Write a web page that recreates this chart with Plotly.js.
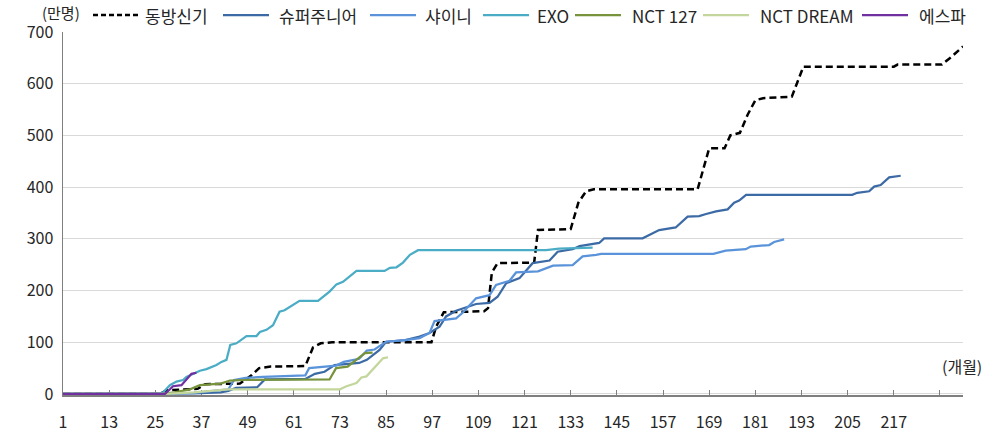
<!DOCTYPE html>
<html>
<head>
<meta charset="utf-8">
<script src="https://cdn.plot.ly/plotly-3.0.1.min.js"></script>
<style>html,body{margin:0;padding:0;background:#fff;}#chart{width:995px;height:435px;}</style>
</head>
<body>
<div id="chart"></div>
<script>
// Series names
const names = ['동방신기', '슈퍼주니어', '샤이니', 'EXO', 'NCT 127', 'NCT DREAM', '에스파'];

// Months since debut (x) and cumulative album sales in 만명 (y)
const tvxqX = [1, 26, 28, 36, 38, 47, 50, 52, 55, 64, 66, 68, 71, 96.8, 98, 100, 110.5, 111.5, 112.5, 114, 123.5, 124.5, 133, 135, 137, 139, 166, 169, 173, 174.5, 177, 179, 181, 183, 190.5, 193.5, 217, 218, 229.5, 232, 235];
const tvxqY = [0, 0, 7, 10, 19, 20, 36, 50, 53, 54, 90, 98, 100, 100, 130, 158, 160, 166, 235, 253, 254, 317, 319, 370, 392, 396, 396, 475, 475, 500, 505, 540, 568, 572, 575, 633, 633, 637, 637, 652, 672];

const sjX = [1, 27, 35, 42, 44, 46, 51.5, 53.5, 64, 66.5, 69, 71.6, 78, 80, 81, 83.3, 85, 90, 93.7, 96.3, 98.9, 100.6, 103.2, 108.4, 111.9, 114, 116.2, 119.7, 123.1, 127.5, 129.6, 133.5, 135.3, 140.4, 141.7, 151.7, 156, 160.3, 163.4, 166.4, 168.2, 170.8, 173.8, 175.5, 176.8, 178.6, 206.2, 207.5, 210.6, 211.9, 213.6, 215.8, 218.8];
const sjY = [0, 0, 1, 3, 6, 12, 13, 28, 29, 39, 43, 56, 60, 66, 72, 85, 101, 104, 111, 118, 130, 150, 161, 174, 176, 188, 214, 224, 253, 258, 275, 280, 286, 292, 301, 301, 317, 322, 343, 344, 348, 353, 357, 370, 374, 385, 385, 389, 392, 401, 404, 419, 422];

const shineeX = [1, 27, 35, 41, 44, 45.5, 48.5, 53, 64, 65, 72, 74, 78, 80, 82, 85, 90, 93.7, 96.3, 97.6, 100.6, 103.2, 104.9, 108.4, 111.9, 113.6, 117.1, 118.8, 124.5, 128.4, 133.5, 136.1, 139.6, 140.9, 170.1, 173.3, 178.5, 179.8, 184.6, 185.9, 188.5];
const shineeY = [0, 0, 2, 7, 9, 27, 31, 33, 36, 50, 55, 62, 68, 84, 86, 101, 104, 108, 118, 141, 144, 146, 157, 185, 191, 211, 219, 235, 237, 248, 249, 266, 269, 271, 271, 277, 280, 285, 288, 294, 299];

const exoX = [1, 26, 27, 28.8, 30.5, 32.2, 33.1, 35.3, 36.6, 38.3, 40.9, 42.2, 43.5, 44.5, 46.1, 48.7, 51.3, 52.2, 53.9, 55.6, 57.3, 58.6, 59.9, 62.5, 67.3, 68.6, 70.3, 72.1, 73.8, 77.3, 84.6, 86, 87.7, 89.4, 91.2, 93.3, 126.6, 130, 138.7];
const exoY = [0, 0, 3, 17, 24, 27, 33, 41, 45, 48, 56, 62, 66, 95, 98, 112, 112, 120, 124, 133, 159, 162, 168, 180, 180, 188, 198, 212, 217, 238, 238, 244, 245, 254, 269, 278, 278, 281, 283];

const nct127X = [1, 27, 30, 34, 36.6, 40, 42, 44.4, 48, 70.3, 72, 75, 77.3, 79.5, 81.5];
const nct127Y = [0, 0, 3, 9, 17, 19, 20, 26, 27, 28, 50, 53, 66, 79, 80];

const dreamX = [1, 27, 35, 41, 44, 73, 74.7, 77.3, 78.6, 79.9, 82.5, 84.2, 85.5];
const dreamY = [0, 0, 3, 7, 9, 9, 15, 21, 32, 34, 56, 69, 71];

const aespaX = [1, 27.5, 28.8, 29.6, 31.8, 33.1, 34.4, 35.7];
const aespaY = [0, 0, 9, 15, 17, 27, 39, 41];

// X tick labels
const tickVals = [1, 13, 25, 37, 49, 61, 73, 85, 97, 109, 121, 133, 145, 157, 169, 181, 193, 205, 217, 229];
const tickText = ['1', '13', '25', '37', '49', '61', '73', '85', '97', '109', '121', '133', '145', '157', '169', '181', '193', '205', '217', ''];

const colors = ['#000000', '#3C6AA5', '#5A93D9', '#4BACC6', '#77933C', '#C3D69B', '#7030A0'];
const xs = [tvxqX, sjX, shineeX, exoX, nct127X, dreamX, aespaX];
const ys = [tvxqY, sjY, shineeY, exoY, nct127Y, dreamY, aespaY];
const widths = [2.5, 2.25, 2.25, 2.25, 2.25, 2.25, 2.25];
const dashes = ['7px,4px', 'solid', 'solid', 'solid', 'solid', 'solid', 'solid'];

const traces = names.map((n, i) => ({
  type: 'scatter', mode: 'lines', name: n,
  x: xs[i], y: ys[i],
  line: {color: colors[i], width: widths[i], dash: dashes[i]},
  hoverinfo: 'skip', showlegend: false
}));

const fam = '"Noto Sans CJK KR", "Noto Sans", sans-serif';
const font = {family: fam, size: 16, color: '#262626'};
const legFont = {family: fam, size: 17, color: '#262626'};

// Custom legend (Excel-style long line samples) placed in pixel terms above the plot
const L = 63, T = 32, W = 900, H = 363;
const px2x = p => (p - L) / W;
const py2y = p => (T + H - p) / H;
const legLineStart = [93, 223, 370, 483, 575, 703, 862];
const legTextLeft = [143, 277, 423, 535, 630, 758, 917];
const legY = 15;
const shapes = names.map((n, i) => ({
  type: 'line', xref: 'paper', yref: 'paper',
  x0: px2x(legLineStart[i]), x1: px2x(legLineStart[i] + 46), y0: py2y(legY), y1: py2y(legY),
  line: {color: colors[i], width: widths[i], dash: i === 0 ? '5px,3px' : 'solid'}
}));
const annotations = names.map((n, i) => ({
  text: n, xref: 'paper', yref: 'paper', x: px2x(legTextLeft[i]), y: py2y(legY),
  xanchor: 'left', yanchor: 'middle', showarrow: false, font: legFont
}));
annotations.push(
  {text: '(만명)', xref: 'paper', yref: 'paper', x: px2x(61), y: py2y(12), xanchor: 'center', yanchor: 'middle', showarrow: false, font: {family: fam, size: 15, color: '#262626'}},
  {text: '(개월)', xref: 'paper', yref: 'paper', x: px2x(962), y: py2y(366), xanchor: 'center', yanchor: 'middle', showarrow: false, font: font}
);

const layout = {
  width: 995, height: 435,
  margin: {l: L, r: 995 - L - W, t: T, b: 435 - T - H, autoexpand: false},
  paper_bgcolor: '#ffffff', plot_bgcolor: '#ffffff',
  font: font,
  showlegend: false,
  xaxis: {
    range: [1, 235], tickmode: 'array', tickvals: tickVals, ticktext: tickText,
    showgrid: false, zeroline: false, showline: true, linecolor: '#7f7f7f', linewidth: 1.5,
    ticks: 'inside', ticklen: 5, tickcolor: '#7f7f7f', tickwidth: 1,
    tickfont: font, ticklabelstandoff: 12, layer: 'below traces', fixedrange: true
  },
  yaxis: {
    range: [-2, 700], tickvals: [0, 100, 200, 300, 400, 500, 600, 700],
    showgrid: true, gridcolor: '#d9d9d9', gridwidth: 1, zeroline: false,
    showline: true, linecolor: '#7f7f7f', linewidth: 1.5, ticks: '',
    tickfont: font, ticklabelstandoff: 5, layer: 'below traces', fixedrange: true
  },
  shapes: shapes,
  annotations: annotations
};

Plotly.newPlot('chart', traces, layout, {staticPlot: true, displayModeBar: false});
</script>
</body>
</html>
